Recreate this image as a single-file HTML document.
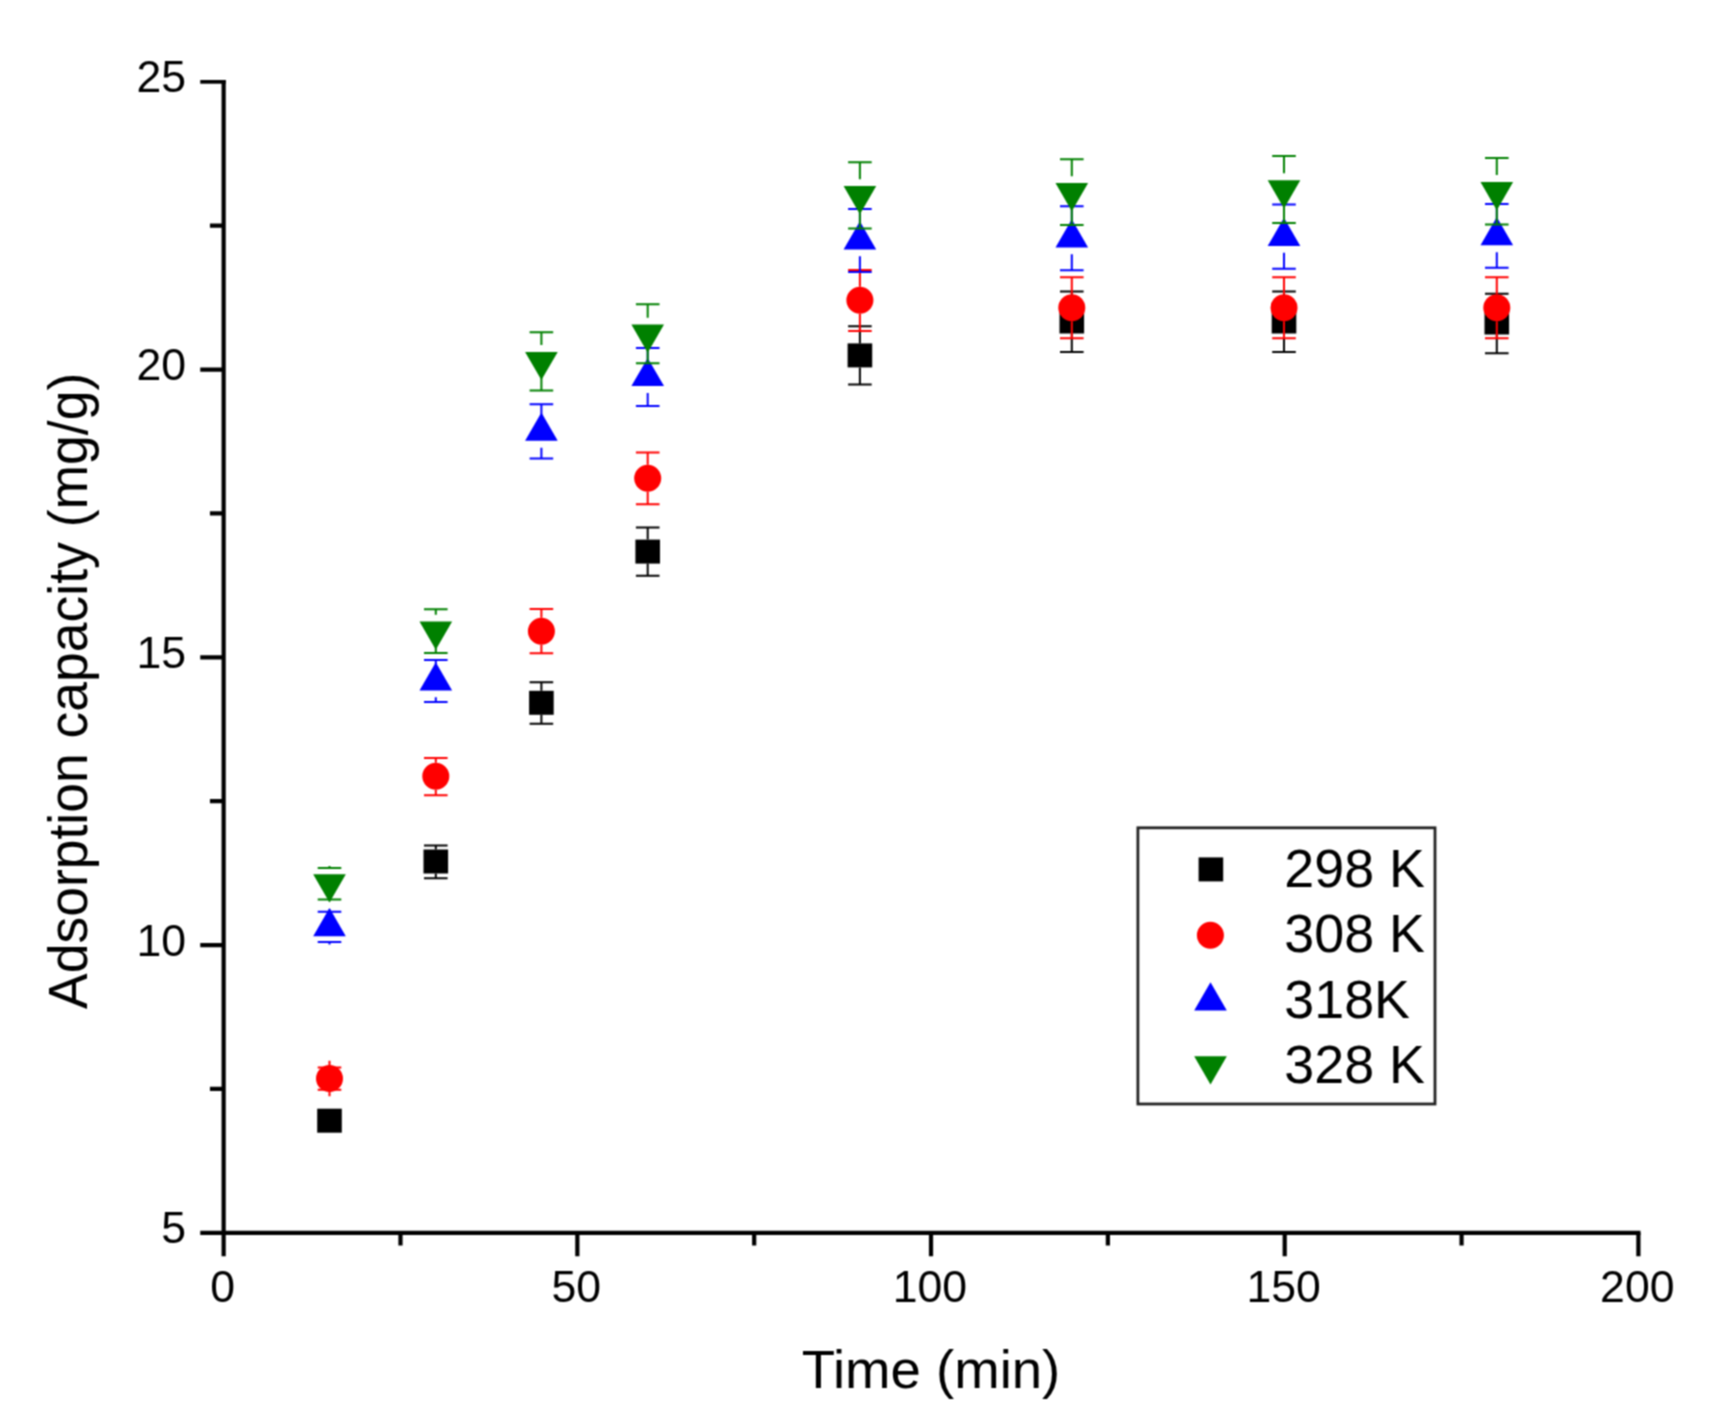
<!DOCTYPE html>
<html lang="en"><head><meta charset="utf-8"><title>Adsorption capacity vs time</title>
<style>html,body{margin:0;padding:0;background:#fff}body{width:1719px;height:1424px;overflow:hidden}svg{display:block}text{font-family:"Liberation Sans",Arial,sans-serif;fill:#000}</style></head><body>
<svg width="1719" height="1424" viewBox="0 0 1719 1424">
<defs><filter id="soft" x="0" y="0" width="1719" height="1424" filterUnits="userSpaceOnUse" color-interpolation-filters="sRGB"><feConvolveMatrix order="3" kernelMatrix="1 2 1 2 4 2 1 2 1" divisor="16" edgeMode="duplicate" preserveAlpha="true"/></filter></defs>
<g filter="url(#soft)">
<rect width="1719" height="1424" fill="#fff"/>
<g stroke="#000" stroke-width="4.2" fill="none" stroke-linecap="butt">
<path d="M223.65 80V1256.2"/>
<path d="M200.25 1232.8H1640.5"/>
<path d="M200.25 945.05H223.65M200.25 657.3H223.65M200.25 369.55H223.65M209.95 1088.92H223.65M209.95 801.17H223.65M209.95 513.42H223.65M209.95 225.67H223.65M577.34 1232.8V1256.2M931.02 1232.8V1256.2M1284.71 1232.8V1256.2M1638.4 1232.8V1256.2M400.49 1232.8V1245.4M754.18 1232.8V1245.4M1107.87 1232.8V1245.4M1461.56 1232.8V1245.4"/>
<path d="M200.25 81.85H225.75" stroke-width="3.7"/>
</g>
<g font-size="44.6">
<text x="186" y="1243.4" text-anchor="end">5</text>
<text x="186" y="955.65" text-anchor="end">10</text>
<text x="186" y="667.9" text-anchor="end">15</text>
<text x="186" y="380.15" text-anchor="end">20</text>
<text x="186" y="92.4" text-anchor="end">25</text>
<text x="222.55" y="1302" text-anchor="middle">0</text>
<text x="576.24" y="1302" text-anchor="middle">50</text>
<text x="929.92" y="1302" text-anchor="middle">100</text>
<text x="1283.61" y="1302" text-anchor="middle">150</text>
<text x="1637.3" y="1302" text-anchor="middle">200</text>
</g>
<text x="931" y="1387.9" font-size="53.5" text-anchor="middle" textLength="258.6" lengthAdjust="spacingAndGlyphs">Time (min)</text>
<text transform="translate(87.2 690.9) rotate(-90)" font-size="55" text-anchor="middle" textLength="636.3" lengthAdjust="spacingAndGlyphs">Adsorption capacity (mg/g)</text>
<g>

<path d="M435.8 849.5V845.6M435.8 873.5V878.2M424 845.6H447.6M424 878.2H447.6" stroke="#000" stroke-width="2.0" fill="none"/>
<path d="M541.4 690.8V682.2M541.4 714.8V723.8M529.6 682.2H553.2M529.6 723.8H553.2" stroke="#000" stroke-width="2.0" fill="none"/>
<path d="M647.7 539.6V527.6M647.7 563.6V575.7M635.9 527.6H659.5M635.9 575.7H659.5" stroke="#000" stroke-width="2.0" fill="none"/>
<path d="M859.9 343.4V326.3M859.9 367.4V384.4M848.1 326.3H871.7M848.1 384.4H871.7" stroke="#000" stroke-width="2.0" fill="none"/>
<path d="M1071.8 309.5V291.6M1071.8 333.5V351.9M1060 291.6H1083.6M1060 351.9H1083.6" stroke="#000" stroke-width="2.0" fill="none"/>
<path d="M1284 309.5V291.6M1284 333.5V351.9M1272.2 291.6H1295.8M1272.2 351.9H1295.8" stroke="#000" stroke-width="2.0" fill="none"/>
<path d="M1496.8 310.5V293.8M1496.8 334.5V353.3M1485 293.8H1508.6M1485 353.3H1508.6" stroke="#000" stroke-width="2.0" fill="none"/>
<rect x="317.2" y="1108.7" width="24.6" height="24" fill="#000"/>
<rect x="423.5" y="849.5" width="24.6" height="24" fill="#000"/>
<rect x="529.1" y="690.8" width="24.6" height="24" fill="#000"/>
<rect x="635.4" y="539.6" width="24.6" height="24" fill="#000"/>
<rect x="847.6" y="343.4" width="24.6" height="24" fill="#000"/>
<rect x="1059.5" y="309.5" width="24.6" height="24" fill="#000"/>
<rect x="1271.7" y="309.5" width="24.6" height="24" fill="#000"/>
<rect x="1484.5" y="310.5" width="24.6" height="24" fill="#000"/>
</g>
<g>
<path d="M329.5 1060.8V1067.6M329.5 1096.2V1089.7M317.7 1067.6H341.3M317.7 1089.7H341.3" stroke="#f00" stroke-width="2.0" fill="none"/>
<path d="M435.8 762.8V758M435.8 789.8V795.3M424 758H447.6M424 795.3H447.6" stroke="#f00" stroke-width="2.0" fill="none"/>
<path d="M541.4 617.7V609M541.4 644.7V653.2M529.6 609H553.2M529.6 653.2H553.2" stroke="#f00" stroke-width="2.0" fill="none"/>
<path d="M647.7 464.8V452.6M647.7 491.8V504.3M635.9 452.6H659.5M635.9 504.3H659.5" stroke="#f00" stroke-width="2.0" fill="none"/>
<path d="M859.9 286.8V270M859.9 313.8V330.9M848.1 270H871.7M848.1 330.9H871.7" stroke="#f00" stroke-width="2.0" fill="none"/>
<path d="M1071.8 294.2V277.35M1071.8 321.2V338.2M1060 277.35H1083.6M1060 338.2H1083.6" stroke="#f00" stroke-width="2.0" fill="none"/>
<path d="M1284 294.2V277.35M1284 321.2V338.2M1272.2 277.35H1295.8M1272.2 338.2H1295.8" stroke="#f00" stroke-width="2.0" fill="none"/>
<path d="M1496.8 294.2V277.35M1496.8 321.2V338.2M1485 277.35H1508.6M1485 338.2H1508.6" stroke="#f00" stroke-width="2.0" fill="none"/>
<circle cx="329.5" cy="1078.5" r="13.5" fill="#f00"/>
<circle cx="435.8" cy="776.3" r="13.5" fill="#f00"/>
<circle cx="541.4" cy="631.2" r="13.5" fill="#f00"/>
<circle cx="647.7" cy="478.3" r="13.5" fill="#f00"/>
<circle cx="859.9" cy="300.3" r="13.5" fill="#f00"/>
<circle cx="1071.8" cy="307.7" r="13.5" fill="#f00"/>
<circle cx="1284" cy="307.7" r="13.5" fill="#f00"/>
<circle cx="1496.8" cy="307.7" r="13.5" fill="#f00"/>
</g>
<g>
<path d="M329.5 909.15V911.8M329.5 944.55V941.9M317.7 911.8H341.3M317.7 941.9H341.3" stroke="#00f" stroke-width="2.0" fill="none"/>
<path d="M435.8 664.7V660M435.8 697.3V702M424 660H447.6M424 702H447.6" stroke="#00f" stroke-width="2.0" fill="none"/>
<path d="M541.4 415.1V404.3M541.4 447.7V458.6M529.6 404.3H553.2M529.6 458.6H553.2" stroke="#00f" stroke-width="2.0" fill="none"/>
<path d="M647.7 360.4V348M647.7 393V406M635.9 348H659.5M635.9 406H659.5" stroke="#00f" stroke-width="2.0" fill="none"/>
<path d="M859.9 223.7V208.9M859.9 256.3V271.9M848.1 208.9H871.7M848.1 271.9H871.7" stroke="#00f" stroke-width="2.0" fill="none"/>
<path d="M1071.8 221.7V206.3M1071.8 254.3V270.2M1060 206.3H1083.6M1060 270.2H1083.6" stroke="#00f" stroke-width="2.0" fill="none"/>
<path d="M1284 220.2V204.5M1284 252.8V268.8M1272.2 204.5H1295.8M1272.2 268.8H1295.8" stroke="#00f" stroke-width="2.0" fill="none"/>
<path d="M1496.8 219.6V203.9M1496.8 252.2V267.85M1485 203.9H1508.6M1485 267.85H1508.6" stroke="#00f" stroke-width="2.0" fill="none"/>
<path d="M329.5 908.03L345.8 936.26H313.2Z" fill="#00f"/>
<path d="M435.8 662.18L452.1 690.41H419.5Z" fill="#00f"/>
<path d="M541.4 412.58L557.7 440.81H525.1Z" fill="#00f"/>
<path d="M647.7 357.88L664 386.11H631.4Z" fill="#00f"/>
<path d="M859.9 221.18L876.2 249.41H843.6Z" fill="#00f"/>
<path d="M1071.8 219.18L1088.1 247.41H1055.5Z" fill="#00f"/>
<path d="M1284 217.68L1300.3 245.91H1267.7Z" fill="#00f"/>
<path d="M1496.8 217.08L1513.1 245.31H1480.5Z" fill="#00f"/>
</g>
<g>
<path d="M329.5 865.95V867.9M329.5 901.35V899.4M317.7 867.9H341.3M317.7 899.4H341.3" stroke="#008000" stroke-width="2.0" fill="none"/>
<path d="M435.8 614.7V609.2M435.8 647.3V653M424 609.2H447.6M424 653H447.6" stroke="#008000" stroke-width="2.0" fill="none"/>
<path d="M541.4 345V332.3M541.4 377.6V390.5M529.6 332.3H553.2M529.6 390.5H553.2" stroke="#008000" stroke-width="2.0" fill="none"/>
<path d="M647.7 317.7V304.15M647.7 350.3V363.3M635.9 304.15H659.5M635.9 363.3H659.5" stroke="#008000" stroke-width="2.0" fill="none"/>
<path d="M859.9 179.2V162.3M859.9 211.8V228.4M848.1 162.3H871.7M848.1 228.4H871.7" stroke="#008000" stroke-width="2.0" fill="none"/>
<path d="M1071.8 176.2V159.2M1071.8 208.8V225.1M1060 159.2H1083.6M1060 225.1H1083.6" stroke="#008000" stroke-width="2.0" fill="none"/>
<path d="M1284 173.3V156.1M1284 205.9V223.1M1272.2 156.1H1295.8M1272.2 223.1H1295.8" stroke="#008000" stroke-width="2.0" fill="none"/>
<path d="M1496.8 175.1V157.9M1496.8 207.7V224.6M1485 157.9H1508.6M1485 224.6H1508.6" stroke="#008000" stroke-width="2.0" fill="none"/>
<path d="M329.5 902.47L345.8 874.24H313.2Z" fill="#008000"/>
<path d="M435.8 649.82L452.1 621.59H419.5Z" fill="#008000"/>
<path d="M541.4 380.12L557.7 351.89H525.1Z" fill="#008000"/>
<path d="M647.7 352.82L664 324.59H631.4Z" fill="#008000"/>
<path d="M859.9 214.32L876.2 186.09H843.6Z" fill="#008000"/>
<path d="M1071.8 211.32L1088.1 183.09H1055.5Z" fill="#008000"/>
<path d="M1284 208.42L1300.3 180.19H1267.7Z" fill="#008000"/>
<path d="M1496.8 210.22L1513.1 181.99H1480.5Z" fill="#008000"/>
</g>
<rect x="1137.9" y="827.8" width="297.1" height="276.2" fill="#fff" stroke="#222" stroke-width="2.8"/>
<rect x="1198.6" y="857.4" width="24.6" height="24" fill="#000"/>
<circle cx="1210.4" cy="935.2" r="13.5" fill="#f00"/>
<path d="M1210.5 982.18L1226.8 1010.41H1194.2Z" fill="#00f"/>
<path d="M1210.5 1084.42L1226.8 1056.19H1194.2Z" fill="#008000"/>
<g font-size="53.8">
<text x="1284.3" y="887">298 K</text>
<text x="1284.3" y="952.3">308 K</text>
<text x="1284.3" y="1017.9">318K</text>
<text x="1284.3" y="1083">328 K</text>
</g>
</g></svg></body></html>
